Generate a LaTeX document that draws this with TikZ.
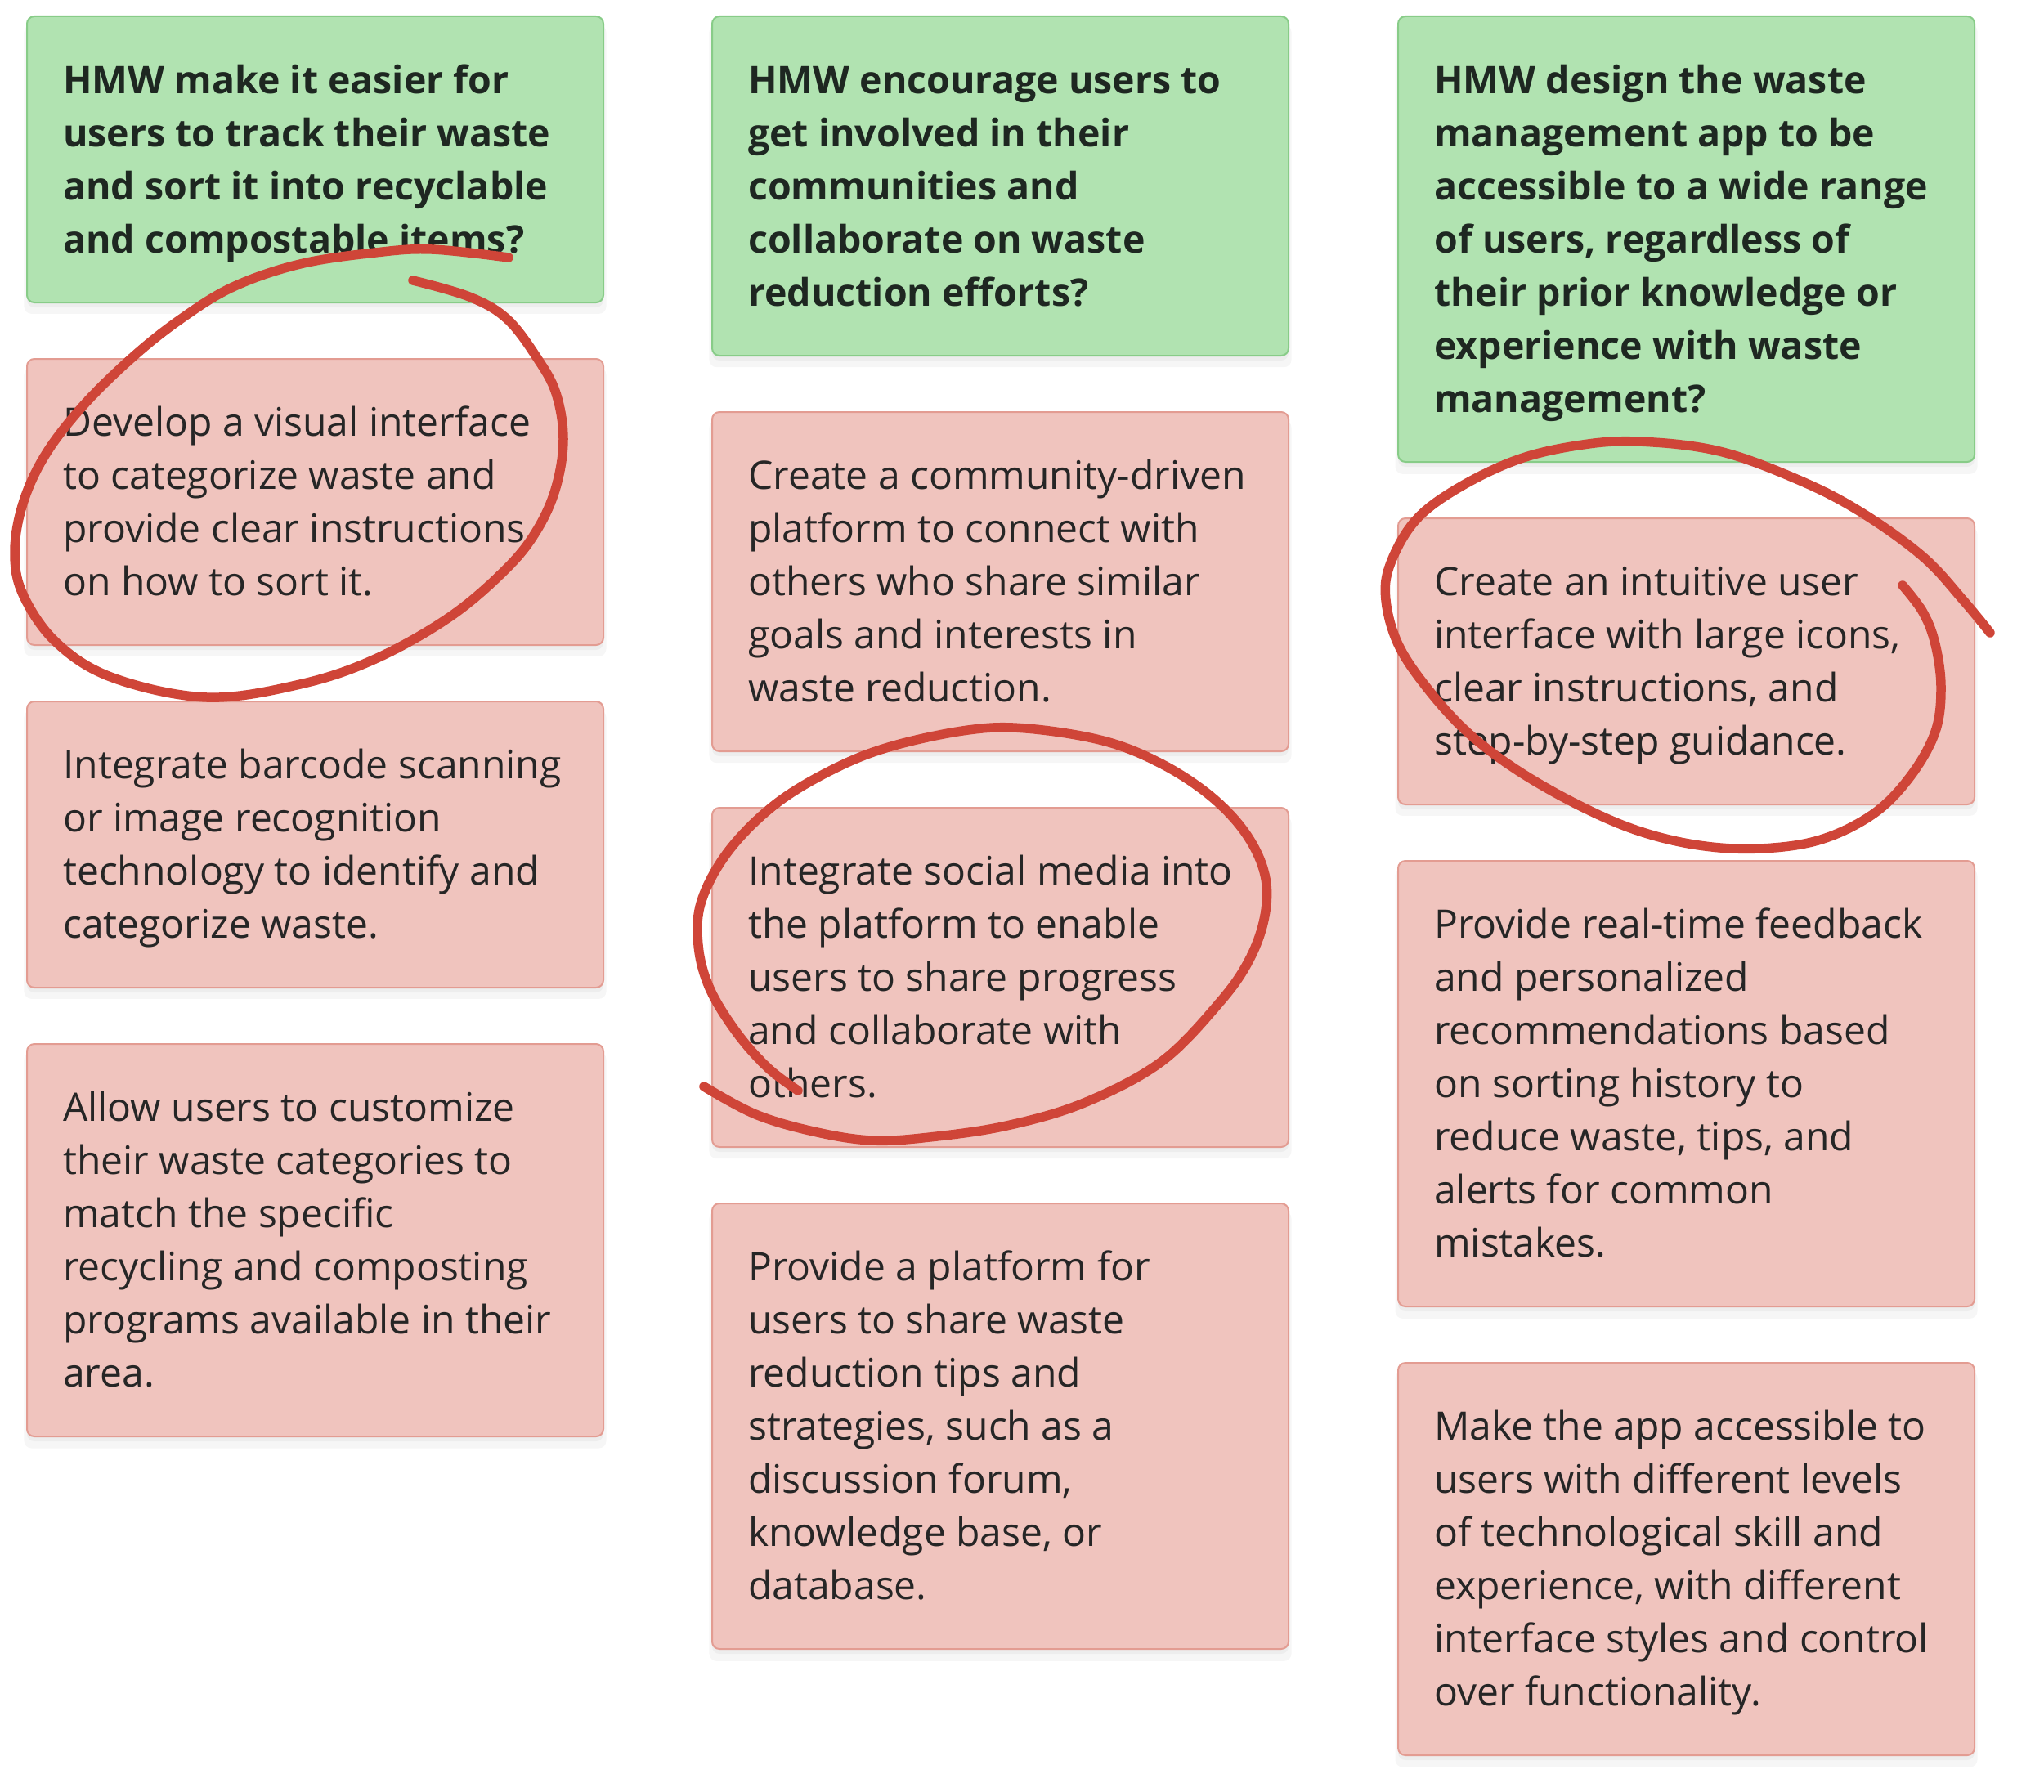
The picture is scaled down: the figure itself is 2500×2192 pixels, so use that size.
\documentclass[tikz,border=0pt]{standalone}
\usepackage{fontspec}
\setmainfont{Open Sans}
\usetikzlibrary{calc,shadows}
\definecolor{gfill}{HTML}{B1E3B1}
\definecolor{gline}{HTML}{88CC88}
\definecolor{pfill}{HTML}{F0C4BE}
\definecolor{pline}{HTML}{E39C92}
\definecolor{ink}{HTML}{262626}
\definecolor{hink}{HTML}{1E2721}
\definecolor{ringc}{HTML}{CF4538}
\newcommand\bodytxt[1]{\parbox[t]{700pt}{\fontsize{48pt}{65pt}\selectfont\raggedright #1}}
\newcommand\headtxt[1]{\parbox[t]{700pt}{\fontsize{46.5pt}{65pt}\selectfont\bfseries\raggedright #1}}
\tikzset{
  card/.style={rounded corners=9pt, line width=2pt, minimum width=705pt, anchor=north west, inner sep=0pt,
    general shadow={fill=black, opacity=0.035, shadow yshift=-12pt, shadow scale=1.01},
    general shadow={fill=black, opacity=0.035, shadow yshift=-6pt}},
  gcard/.style={card, fill=gfill, draw=gline},
  pcard/.style={card, fill=pfill, draw=pline},
  txt/.style={anchor=base west, inner sep=0pt, text=ink},
  htxt/.style={txt, text=hink},
  ring/.style={draw=ringc, line width=11.5pt, line cap=round, line join=round},
}
\begin{document}
\begin{tikzpicture}[x=1pt,y=-1pt]
\useasboundingbox[fill=white] (0,0) rectangle (2500,2192);
% column 1
\node[gcard, minimum height=350pt] (a0) at (32,19) {};
\node[htxt] (a0t) at ($(a0.north west)+(45,95)$) {\headtxt{HMW make it easier for\\users to track their waste\\and sort it into recyclable\\and compostable items?}};
\node[pcard, minimum height=350pt] (a1) at (32,438) {};
\node[txt] (a1t) at ($(a1.north west)+(45,95)$) {\bodytxt{Develop a visual interface\\to categorize waste and\\provide clear instructions\\on how to sort it.}};
\node[pcard, minimum height=350pt] (a2) at (32,857) {};
\node[txt] (a2t) at ($(a2.north west)+(45,95)$) {\bodytxt{Integrate barcode scanning\\or image recognition\\technology to identify and\\categorize waste.}};
\node[pcard, minimum height=480pt] (a3) at (32,1276) {};
\node[txt] (a3t) at ($(a3.north west)+(45,95)$) {\bodytxt{Allow users to customize\\their waste categories to\\match the specific\\recycling and composting\\programs available in their\\area.}};
% column 2
\node[gcard, minimum height=415pt] (b0) at (870,19) {};
\node[htxt] (b0t) at ($(b0.north west)+(45,95)$) {\headtxt{HMW encourage users to\\get involved in their\\communities and\\collaborate on waste\\reduction efforts?}};
\node[pcard, minimum height=415pt] (b1) at (870,503) {};
\node[txt] (b1t) at ($(b1.north west)+(45,95)$) {\bodytxt{Create a community-driven\\platform to connect with\\others who share similar\\goals and interests in\\waste reduction.}};
\node[pcard, minimum height=415pt] (b2) at (870,987) {};
\node[txt] (b2t) at ($(b2.north west)+(45,95)$) {\bodytxt{Integrate social media into\\the platform to enable\\users to share progress\\and collaborate with\\others.}};
\node[pcard, minimum height=545pt] (b3) at (870,1471) {};
\node[txt] (b3t) at ($(b3.north west)+(45,95)$) {\bodytxt{Provide a platform for\\users to share waste\\reduction tips and\\strategies, such as a\\discussion forum,\\knowledge base, or\\database.}};
% column 3
\node[gcard, minimum height=545pt] (c0) at (1709,19) {};
\node[htxt] (c0t) at ($(c0.north west)+(45,95)$) {\headtxt{HMW design the waste\\management app to be\\accessible to a wide range\\of users, regardless of\\their prior knowledge or\\experience with waste\\management?}};
\node[pcard, minimum height=350pt] (c1) at (1709,633) {};
\node[txt] (c1t) at ($(c1.north west)+(45,95)$) {\bodytxt{Create an intuitive user\\interface with large icons,\\clear instructions, and\\step-by-step guidance.}};
\node[pcard, minimum height=545pt] (c2) at (1709,1052) {};
\node[txt] (c2t) at ($(c2.north west)+(45,95)$) {\bodytxt{Provide real-time feedback\\and personalized\\recommendations based\\on sorting history to\\reduce waste, tips, and\\alerts for common\\mistakes.}};
\node[pcard, minimum height=480pt] (c3) at (1709,1666) {};
\node[txt] (c3t) at ($(c3.north west)+(45,95)$) {\bodytxt{Make the app accessible to\\users with different levels\\of technological skill and\\experience, with different\\interface styles and control\\over functionality.}};
% hand-drawn rings
\draw[ring] plot[smooth, tension=0.6] coordinates {(505,343) (574,363) (620,390) (657,438) (680,481) (689,537) (680,596) (657,648) (620,695) (551,754) (459,806) (367,837) (253,853) (138,829) (69,786) (28,727) (18,675) (28,616) (55,557) (101,497) (161,438) (220,391) (285,351) (367,323) (459,309) (528,305) (622,315)};
\draw[ring] plot[smooth, tension=0.6] coordinates {(861,1329) (924,1363) (995,1384) (1066,1395) (1137,1391) (1231,1377) (1326,1349) (1420,1299) (1491,1227) (1528,1174) (1547,1120) (1547,1070) (1524,1020) (1481,974) (1420,934) (1349,906) (1255,891) (1184,893) (1090,913) (1019,941) (948,984) (891,1041) (858,1102) (854,1156) (868,1209) (901,1263) (939,1306) (976,1334)};
\draw[ring] plot[smooth, tension=0.6] coordinates {(2434,774) (2401,734) (2352,681) (2277,627) (2202,588) (2103,552) (2003,540) (1929,545) (1854,563) (1780,599) (1730,638) (1700,691) (1695,734) (1710,788) (1745,841) (1794,895) (1854,941) (1929,984) (2003,1016) (2078,1034) (2153,1038) (2227,1027) (2292,995) (2337,949) (2367,895) (2374,841) (2367,788) (2352,749) (2327,716)};
\end{tikzpicture}
\end{document}
